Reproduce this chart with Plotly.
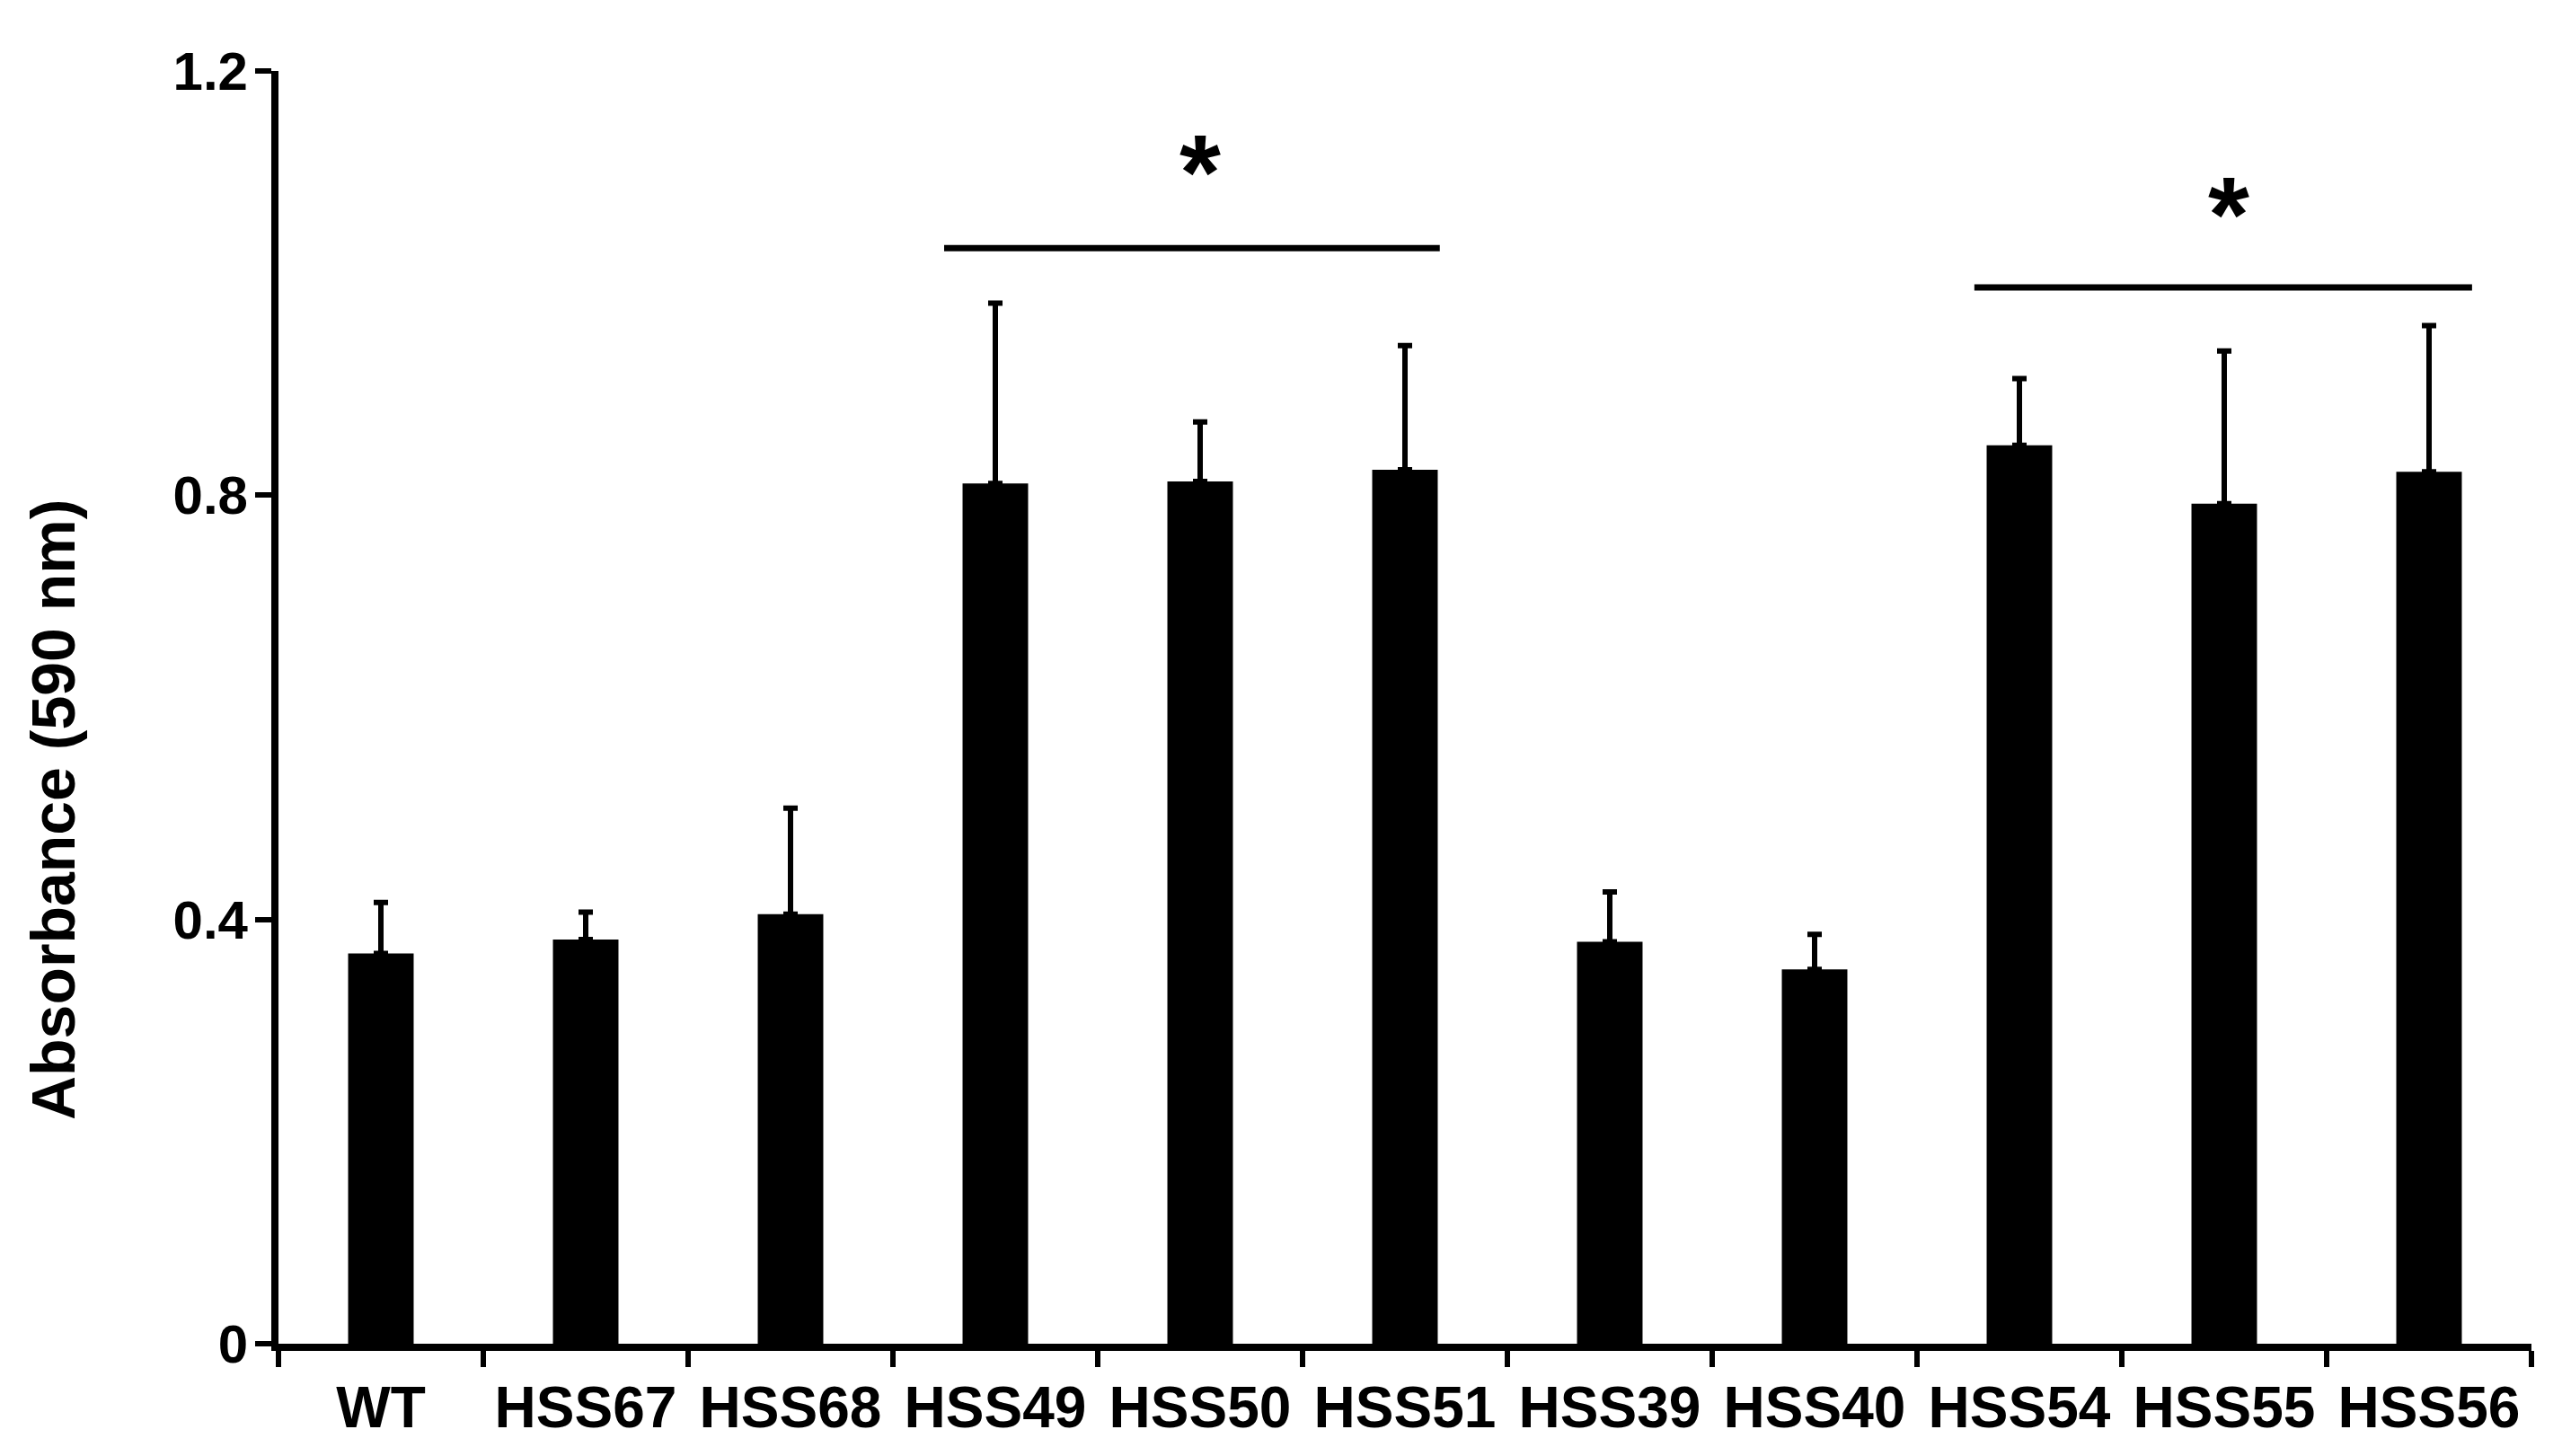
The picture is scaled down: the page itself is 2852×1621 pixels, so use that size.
import plotly.graph_objects as go

categories = ["WT", "HSS67", "HSS68", "HSS49", "HSS50", "HSS51",
              "HSS39", "HSS40", "HSS54", "HSS55", "HSS56"]
absorbance = [0.368, 0.381, 0.405, 0.811, 0.813, 0.824, 0.379, 0.353, 0.847, 0.792, 0.822]
error_plus = [0.048, 0.026, 0.100, 0.170, 0.056, 0.117, 0.047, 0.033, 0.063, 0.144, 0.138]

y_ticks = [0, 0.4, 0.8, 1.2]
y_tick_labels = ["0", "0.4", "0.8", "1.2"]

# significance groups: (start index, end index, line level, star x, star level)
sig_groups = [
    (2.75, 5.17, 1.033, 4.0, 1.113),
    (7.78, 10.21, 0.996, 9.02, 1.073),
]

FONT = "Liberation Sans"

fig = go.Figure()
fig.add_trace(go.Bar(
    x=categories,
    y=absorbance,
    width=0.32,
    marker=dict(color="black", line=dict(width=0)),
    error_y=dict(type="data", array=error_plus, symmetric=False,
                 arrayminus=[0] * len(error_plus),
                 color="black", thickness=6, width=8),
    showlegend=False,
))

shapes = []
annotations = []
for x0, x1, ly, sx, sy in sig_groups:
    shapes.append(dict(type="line", xref="x", yref="y", x0=x0, x1=x1, y0=ly, y1=ly,
                       line=dict(color="black", width=7)))
    annotations.append(dict(x=sx, y=sy, xref="x", yref="y", text="*", showarrow=False,
                            font=dict(family=FONT, size=118, color="black", weight="bold"),
                            xanchor="center", yanchor="middle", yshift=-10))

annotations.append(dict(x=-0.1, y=0.42, xref="paper", yref="paper",
                        text="Absorbance (590 nm)", textangle=-90, showarrow=False,
                        font=dict(family=FONT, size=68, color="black", weight="bold"),
                        xanchor="center", yanchor="middle"))

fig.update_layout(
    width=2852, height=1621,
    margin=dict(l=302, r=42, t=71, b=133),
    paper_bgcolor="white", plot_bgcolor="white",
    shapes=shapes,
    annotations=annotations,
    font=dict(family=FONT, color="black"),
)
fig.update_xaxes(
    type="category",
    range=[-0.5, len(categories) - 0.5],
    showline=True, linecolor="black", linewidth=8,
    ticks="outside", tickson="boundaries", ticklen=18, tickwidth=6, tickcolor="black",
    tickfont=dict(family=FONT, size=64, color="black", weight="bold"),
    ticklabelstandoff=8,
    showgrid=False, zeroline=False,
)
fig.update_yaxes(
    range=[0, 1.2],
    tickvals=y_ticks, ticktext=y_tick_labels,
    showline=True, linecolor="black", linewidth=8,
    ticks="outside", ticklen=18, tickwidth=6, tickcolor="black",
    tickfont=dict(family=FONT, size=60, color="black", weight="bold"),
    ticklabelstandoff=-4,
    showgrid=False, zeroline=False,
)

fig.write_html("out.html")
